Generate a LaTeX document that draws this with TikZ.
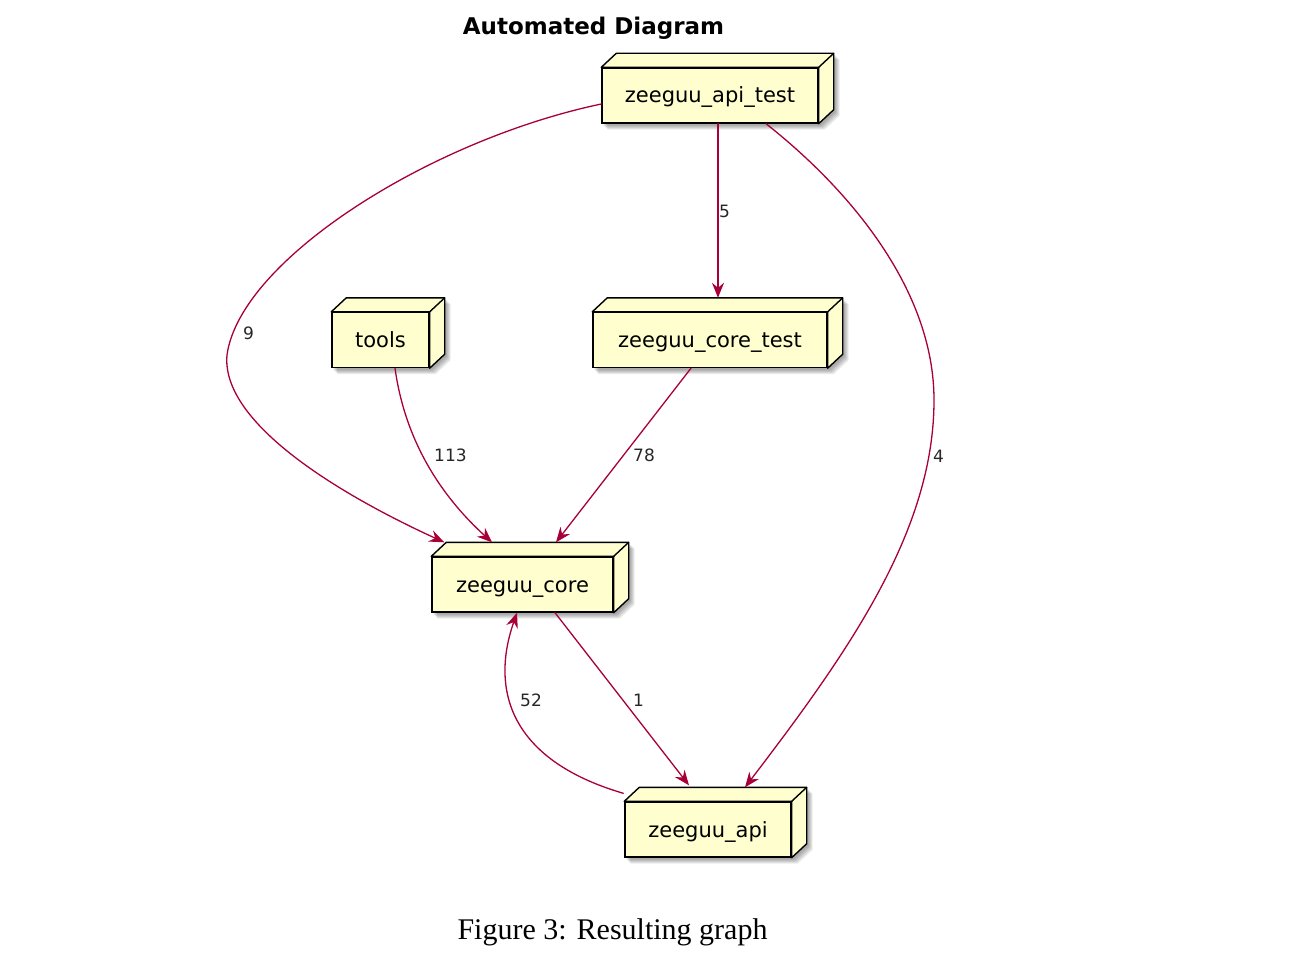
\documentclass[tikz,border=0pt]{standalone}
\usepackage{fontspec}
\setmainfont{Liberation Serif}
\newfontfamily\dejavu{DejaVu Sans}
\usetikzlibrary{arrows.meta,calc,backgrounds}
\definecolor{nodefill}{HTML}{FEFECE}
\definecolor{edgecol}{HTML}{A80036}
\tikzset{
  box/.style={draw=black, fill=nodefill, line width=1.4pt, inner sep=0pt, minimum height=55pt,
    text height=15pt, text depth=0pt, font=\dejavu\fontsize{21}{25}\selectfont},
  face/.style={draw=black, fill=nodefill, line width=1.4pt, line join=round},
  dep/.style={draw=edgecol, line width=1.3pt, -{Stealth[length=15pt,width=12pt,inset=5pt]}},
  lbl/.style={anchor=west, inner sep=0pt, text height=13pt, text depth=0pt,
    font=\dejavu\fontsize{17}{20}\selectfont, text=black!85}
}
% top and side faces of a node box, with its shadow
\newcommand{\boxfaces}[1]{%
  \begin{pgfonlayer}{background}
    \foreach \s in {2,...,6}
      \fill[black, opacity=0.08] ($(#1.north west)+(\s,\s)$) -- ($(#1.north west)+(15+\s,-14+\s)$)
        -- ($(#1.north east)+(15+\s,-14+\s)$) -- ($(#1.south east)+(15+\s,-14+\s)$)
        -- ($(#1.south east)+(\s,\s)$) -- ($(#1.south west)+(\s,\s)$) -- cycle;
  \end{pgfonlayer}
  \draw[face] (#1.north west) -- ++(15,-14) -- ($(#1.north east)+(15,-14)$)
    -- ($(#1.south east)+(15,-14)$) -- (#1.south east) -- (#1.north east) -- cycle;
  \draw[face] (#1.north east) -- ++(15,-14);}

\begin{document}
\begin{tikzpicture}[x=1pt,y=-1pt,line cap=round]
\useasboundingbox (0,0) rectangle (1300,960);

\node[font=\dejavu\bfseries\fontsize{23}{28}\selectfont, anchor=base] (title) at (593.5,35) {Automated Diagram};

% nodes
\node[box, minimum width=216pt] (apitest) at (710,95.5) {zeeguu\_api\_test};
\boxfaces{apitest}
\node[box, minimum width=97pt] (tools) at (380.5,340) {tools};
\boxfaces{tools}
\node[box, minimum width=234pt] (coretest) at (710,340) {zeeguu\_core\_test};
\boxfaces{coretest}
\node[box, minimum width=181pt] (core) at (522.5,584.5) {zeeguu\_core};
\boxfaces{core}
\node[box, minimum width=166pt] (api) at (708,829.5) {zeeguu\_api};
\boxfaces{api}

% dependencies
\draw[dep] ($(apitest.south)+(8,0)$) -- ($(coretest.north)+(8,-14)$);
\draw[dep] ($(apitest.west)+(0,8.5)$) .. controls (430,140) and (240,260) .. (227,355)
  .. controls (221,420) and (330,490) .. ($(core.north west)+(13,-14)$);
\draw[dep] ($(apitest.south)+(56,0)$) .. controls (850,190) and (934,290) .. (934,400)
  .. controls (934,530) and (850,650) .. ($(api.north)+(37,-14)$);
\draw[dep] ($(tools.south)+(14.5,0)$) .. controls (405,440) and (440,495) .. ($(core.north)+(-30.5,-14)$);
\draw[dep] ($(coretest.south)+(-19,0)$) -- ($(core.north)+(33.5,-14)$);
\draw[dep] ($(core.south)+(32.5,0)$) -- ($(api.north)+(-19,-16)$);
\draw[dep] ($(api.north west)+(-1,-8)$) .. controls (510,760) and (490,690) .. ($(core.south)+(-5.5,0)$);

% counts
\node[lbl] (n5) at (719,211) {5};
\node[lbl] (n9) at (243,333) {9};
\node[lbl] (n4) at (933,456) {4};
\node[lbl] (n113) at (434,455) {113};
\node[lbl] (n78) at (633,455) {78};
\node[lbl] (n52) at (520,700) {52};
\node[lbl] (n1) at (633,700) {1};

\node[font=\fontsize{30}{36}\selectfont, anchor=base] (caption) at (612.5,939) {Figure 3: Resulting graph};
\end{tikzpicture}
\end{document}
